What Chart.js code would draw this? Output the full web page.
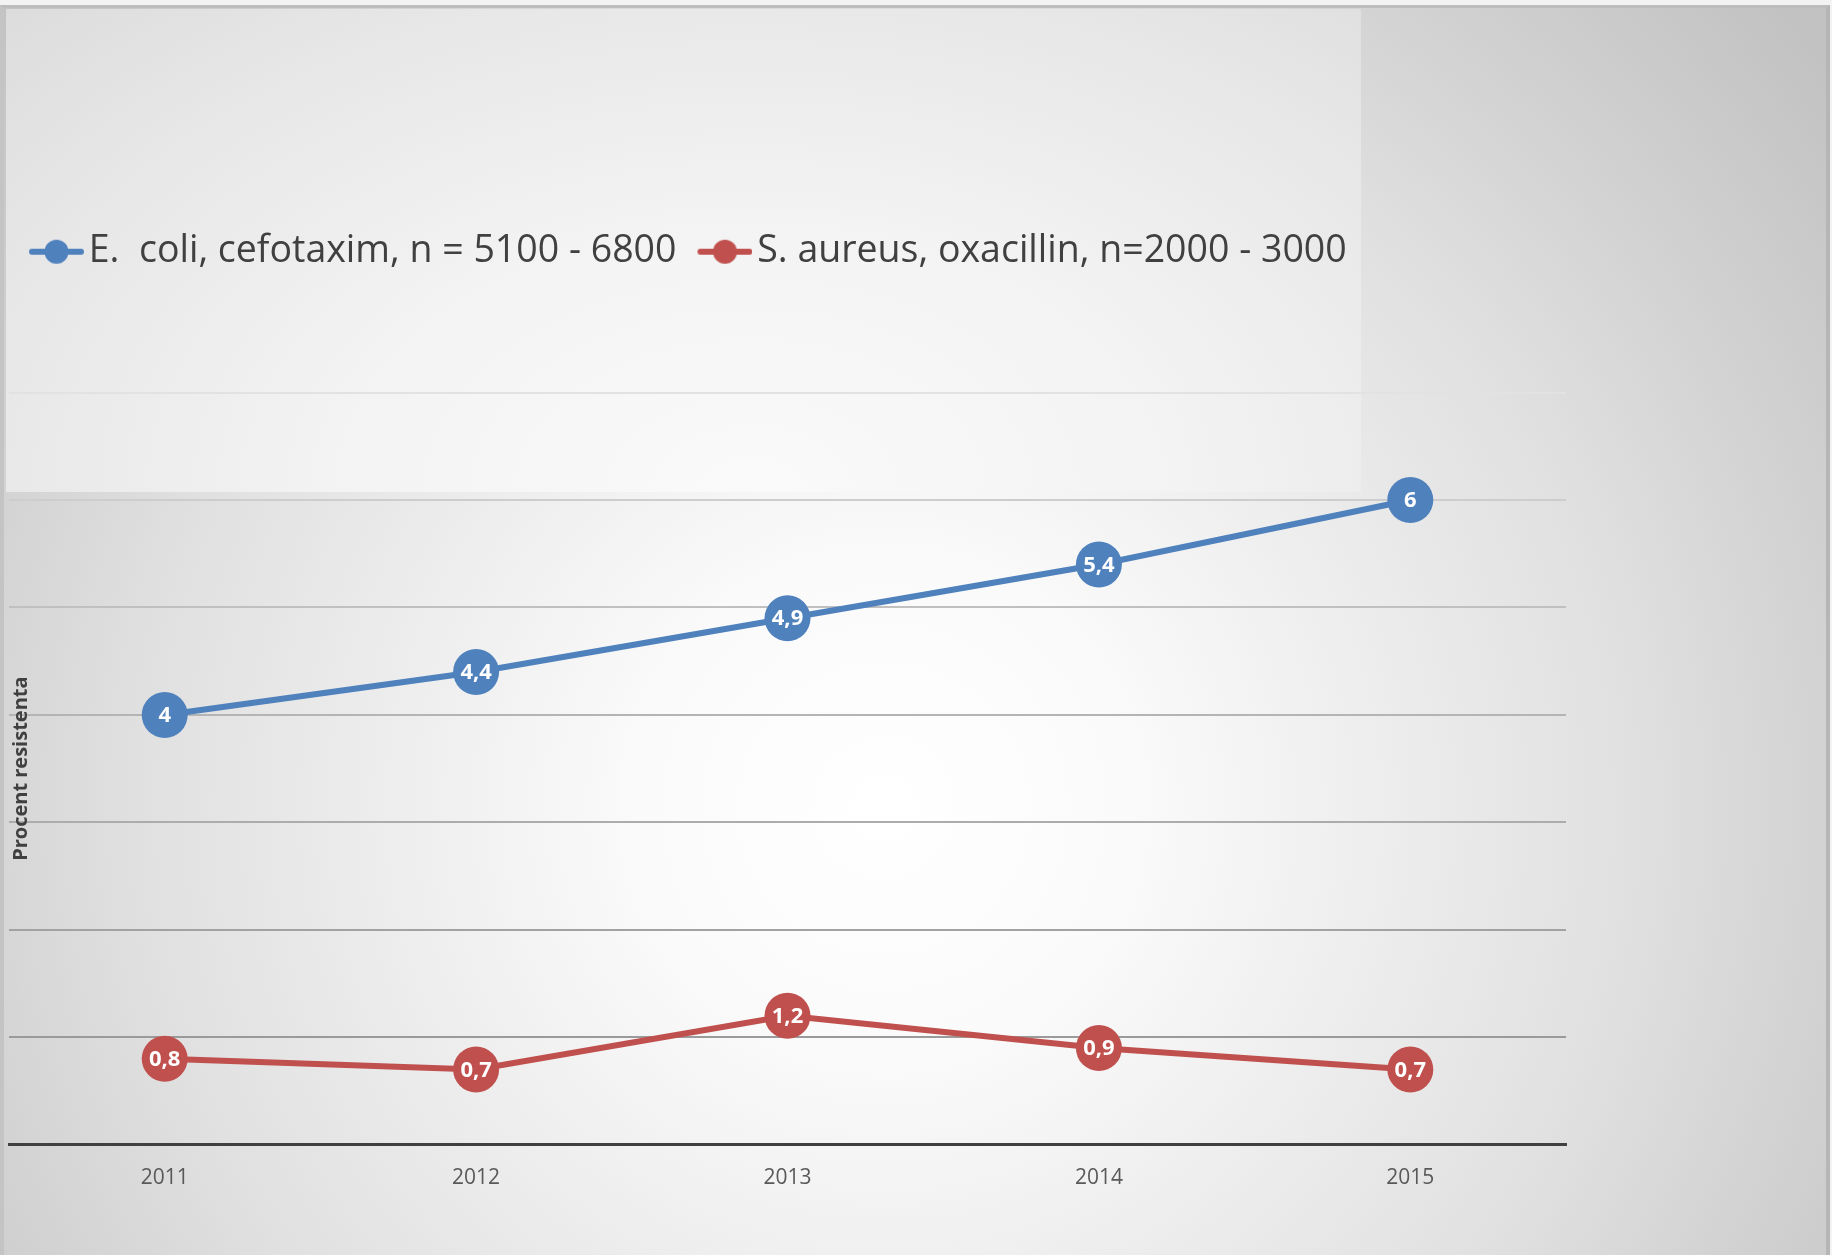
<!DOCTYPE html>
<html>
<head>
<meta charset="utf-8">
<script src="https://cdn.jsdelivr.net/npm/chart.js@4/dist/chart.umd.min.js"></script>
<style>
  html, body { margin: 0; padding: 0; background: #f3f3f3; overflow: hidden; }
  #frame {
    position: absolute; left: 0; top: 5px; width: 1822px; height: 1247px;
    border-left: 4px solid #c4c4c4; border-top: 3px solid #bdbdbd; border-right: 4px solid #b6b6b6;
    background: radial-gradient(circle at 880px 800px, #ffffff 0px, #fafafa 250px, #ededed 500px, #e0e0e0 750px, #d2d2d2 950px, #c2c2c2 1200px);
  }
  #legendBox {
    position: absolute; left: 6px; top: 9px; width: 1355px; height: 483px;
    background: radial-gradient(ellipse at 55% 100%, #fafafa 0%, #f3f3f3 40%, #e7e7e7 75%, #dcdcdc 100%);
  }
  #chart { position: absolute; left: 0; top: 0; }
</style>
</head>
<body>
<div id="frame"></div>
<div id="legendBox"></div>
<canvas id="chart" width="1832" height="1255"></canvas>
<script>
// Data
const years = ['2011', '2012', '2013', '2014', '2015'];
const ecoli = [4, 4.4, 4.9, 5.4, 6];
const saureus = [0.8, 0.7, 1.2, 0.9, 0.7];
const seriesNames = ['E.  coli, cefotaxim, n = 5100 - 6800', 'S. aureus, oxacillin, n=2000 - 3000'];
const seriesColors = ['#4f81bd', '#c0504d'];
const yMax = 7;

// gridline shades, bottom to top
const gridColors = ['#404040', '#9a9a9a', '#a2a2a2', '#acacac', '#b4b4b4', '#c0c0c0', '#cdcdcd', '#e2e2e2'];

Chart.defaults.font.family = "'Open Sans', sans-serif";

// line + dot marker for the legend (15px empty margin on the left)
function legendMarker(color) {
    const c = document.createElement('canvas');
    c.width = 70;
    c.height = 28;
    const g = c.getContext('2d');
    g.strokeStyle = color;
    g.lineWidth = 6;
    g.lineCap = 'round';
    g.beginPath();
    g.moveTo(18, 14);
    g.lineTo(67, 14);
    g.stroke();
    g.fillStyle = color;
    g.beginPath();
    g.arc(42.5, 14, 12, 0, Math.PI * 2);
    g.fill();
    return c;
}
const markers = seriesColors.map(legendMarker);

// extra space below the legend
const legendGap = {
    id: 'legendGap',
    beforeInit(chart) {
        const legend = chart.legend;
        if (!legend) return;
        const fit = legend.fit;
        legend.fit = function () {
            fit.call(this);
            this.height += 112;
        };
    }
};

// white value labels inside the points
const pointLabels = {
    id: 'pointLabels',
    afterDatasetsDraw(chart) {
        const ctx = chart.ctx;
        ctx.save();
        ctx.font = "bold 22px 'Open Sans', sans-serif";
        ctx.fillStyle = '#ffffff';
        ctx.textAlign = 'center';
        ctx.textBaseline = 'middle';
        chart.data.datasets.forEach((ds, i) => {
            chart.getDatasetMeta(i).data.forEach((pt, j) => {
                ctx.fillText(String(ds.data[j]).replace('.', ','), pt.x, pt.y + 1);
            });
        });
        ctx.restore();
    }
};

const datasets = [ecoli, saureus].map((values, i) => ({
    label: seriesNames[i],
    data: values,
    borderColor: seriesColors[i],
    backgroundColor: seriesColors[i],
    borderWidth: 6,
    tension: 0,
    pointRadius: 23,
    pointHoverRadius: 23,
    pointBorderWidth: 0,
    pointBackgroundColor: seriesColors[i],
    clip: false
}));

new Chart(document.getElementById('chart'), {
    type: 'line',
    data: { labels: years, datasets },
    options: {
        responsive: false,
        animation: false,
        events: [],
        layout: { autoPadding: false, padding: { left: 8, right: 266, top: 213, bottom: 43 } },
        plugins: {
            tooltip: { enabled: false },
            title: { display: false },
            legend: {
                position: 'top',
                align: 'start',
                labels: {
                    usePointStyle: true,
                    pointStyleWidth: 42,
                    padding: 20,
                    color: '#404040',
                    font: { size: 37.5 },
                    generateLabels(chart) {
                        const items = Chart.defaults.plugins.legend.labels.generateLabels(chart);
                        items.forEach((item, i) => { item.pointStyle = markers[i]; });
                        return items;
                    }
                }
            }
        },
        scales: {
            x: {
                offset: true,
                grid: { display: false, drawTicks: false },
                border: { display: true, color: '#404040', width: 3 },
                ticks: { color: '#595959', font: { size: 21 }, padding: 21 }
            },
            y: {
                min: 0,
                max: yMax,
                ticks: { display: false, stepSize: 1 },
                grid: {
                    color: ctx => gridColors[ctx.index] || '#cccccc',
                    lineWidth: 2,
                    drawTicks: false
                },
                border: { display: false },
                title: {
                    display: true,
                    text: 'Procent resistenta',
                    color: '#404040',
                    font: { size: 20, weight: 'bold' },
                    padding: { top: 1, bottom: 0 }
                },
                afterFit(scale) { scale.width = 1; }
            }
        }
    },
    plugins: [legendGap, pointLabels]
});
</script>
</body>
</html>
